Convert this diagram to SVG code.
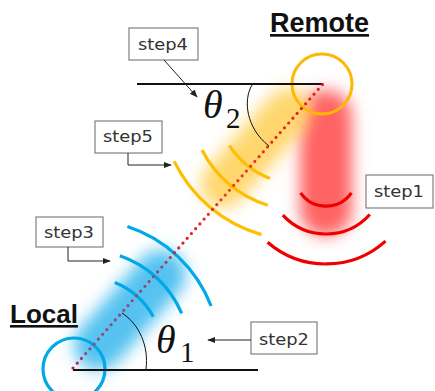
<svg xmlns="http://www.w3.org/2000/svg" width="435" height="391" viewBox="0 0 435 391">
  <defs>
    <filter id="soft" x="-50%" y="-50%" width="200%" height="200%">
      <feGaussianBlur stdDeviation="8"/>
    </filter>
    <marker id="tip" viewBox="0 0 10 10" refX="9" refY="5" markerWidth="8" markerHeight="8" markerUnits="userSpaceOnUse" orient="auto">
      <path d="M0,1 L10,5 L0,9 Z" fill="#222"/>
    </marker>
    <linearGradient id="dotsGrad" gradientUnits="userSpaceOnUse" x1="73" y1="368" x2="323" y2="84">
      <stop offset="0" stop-color="#D0142A"/>
      <stop offset="0.05" stop-color="#944878"/>
      <stop offset="0.36" stop-color="#944878"/>
      <stop offset="0.44" stop-color="#E8141E"/>
      <stop offset="0.62" stop-color="#EE3A1E"/>
      <stop offset="1" stop-color="#E8141E"/>
    </linearGradient>
  </defs>
  <style>
    .box { fill: #fff; stroke: #808080; stroke-width: 1.2; }
    .lbl { font-family: "DejaVu Sans", "Liberation Sans", sans-serif; font-size: 16.5px; fill: #333; }
    .lead { fill: none; stroke: #222; stroke-width: 1; marker-end: url(#tip); }
    .title { font-family: "Liberation Sans", Arial, sans-serif; font-weight: bold; fill: #111; text-decoration: underline; }
    .wave { fill: none; stroke-width: 3.2; stroke-linecap: butt; }
    .blue { stroke: #00A8E8; }
    .yel { stroke: #FFBE00; }
    .red { stroke: #EE0000; }
    .theta { font-family: "Liberation Serif", "Times New Roman", serif; fill: #111; }
  </style>

  <!-- glow trails -->
  <g id="glows">
    <rect x="300" y="90" width="52" height="146" rx="26" fill="#FF6464" filter="url(#soft)"/>
    <g transform="translate(256,148) rotate(-48.6)">
      <rect x="-72" y="-23" width="144" height="46" rx="23" fill="#FFD35E" opacity="0.9" filter="url(#soft)"/>
    </g>
    <g transform="translate(130,310) rotate(-48.6)">
      <rect x="-72" y="-25" width="144" height="50" rx="25" fill="#55C2F0" filter="url(#soft)"/>
    </g>
  </g>

  <!-- remote station -->
  <g id="remote">
    <circle cx="322" cy="84" r="30" fill="none" stroke="#FFB800" stroke-width="3"/>
    <text class="title" x="270" y="32" font-size="27">Remote</text>
  </g>

  <!-- local station -->
  <g id="local">
    <circle cx="74" cy="369" r="31" fill="none" stroke="#00A8E8" stroke-width="3.2"/>
    <text class="title" x="10" y="323" font-size="26">Local</text>
  </g>

  <!-- wavefronts -->
  <g id="waves-local">
    <path class="wave blue" d="M114.8,282.6 A77,77 0 0 1 153.3,316.7"/>
    <path class="wave blue" d="M119.9,255.7 A104,104 0 0 1 181.7,313.4"/>
    <path class="wave blue" d="M127.4,226.6 A134,134 0 0 1 211.1,306.0"/>
  </g>
  <g id="waves-remote-tx">
    <path class="wave yel" d="M229.5,145.7 A84,84 0 0 0 269.9,178.4"/>
    <path class="wave yel" d="M202.0,149.9 A110,110 0 0 0 267.8,205.2"/>
    <path class="wave yel" d="M174.2,161.4 A140,140 0 0 0 261.4,234.6"/>
  </g>
  <g id="waves-remote-rx">
    <path class="wave red" d="M300.6,192.8 A31,31 0 0 0 351.4,192.8"/>
    <path class="wave red" d="M282.8,215.2 A59,59 0 0 0 369.8,214.5"/>
    <path class="wave red" d="M267.6,242.2 A89,89 0 0 0 385.5,241.1"/>
  </g>

  <!-- baselines, line of sight and angles -->
  <g id="geometry">
    <line x1="137" y1="84" x2="323" y2="84" stroke="#111" stroke-width="1.8"/>
    <line x1="73" y1="370" x2="258" y2="370" stroke="#111" stroke-width="1.8"/>
    <line x1="73" y1="368" x2="323" y2="84" stroke="url(#dotsGrad)" stroke-width="3.2" stroke-linecap="round" stroke-dasharray="0 6.4"/>
    <path d="M252,85 C243,100 246,128 269,146" fill="none" stroke="#111" stroke-width="1"/>
    <path d="M122,313 C139,324 149,346 146,369" fill="none" stroke="#111" stroke-width="1"/>
    <text class="theta" x="203" y="118" font-size="40" font-style="italic">θ</text>
    <text class="theta" x="226" y="128" font-size="29">2</text>
    <text class="theta" x="156" y="353" font-size="40" font-style="italic">θ</text>
    <text class="theta" x="180" y="362" font-size="29">1</text>
  </g>

  <!-- step labels -->
  <g id="step1">
    <rect class="box" x="366" y="175" width="67" height="33"/>
    <text class="lbl" x="374" y="197" textLength="50" lengthAdjust="spacingAndGlyphs">step1</text>
  </g>
  <g id="step2">
    <rect class="box" x="251" y="322" width="66" height="32"/>
    <text class="lbl" x="259" y="345" textLength="50" lengthAdjust="spacingAndGlyphs">step2</text>
  </g>
  <g id="step3">
    <rect class="box" x="36" y="217" width="67" height="30"/>
    <text class="lbl" x="44" y="238" textLength="50" lengthAdjust="spacingAndGlyphs">step3</text>
  </g>
  <g id="step4">
    <rect class="box" x="129" y="28" width="69" height="32"/>
    <text class="lbl" x="138" y="50" textLength="50" lengthAdjust="spacingAndGlyphs">step4</text>
  </g>
  <g id="step5">
    <rect class="box" x="95" y="121" width="67" height="32"/>
    <text class="lbl" x="103" y="142" textLength="50" lengthAdjust="spacingAndGlyphs">step5</text>
  </g>

  <!-- leaders -->
  <g id="connectors">
    <path class="lead" d="M164,60 L197,97"/>
    <path class="lead" d="M128,153 L128,165 L171,165"/>
    <path class="lead" d="M68,247 L68,261 L110,261"/>
    <path class="lead" d="M251,340 L208,340"/>
  </g>
</svg>
